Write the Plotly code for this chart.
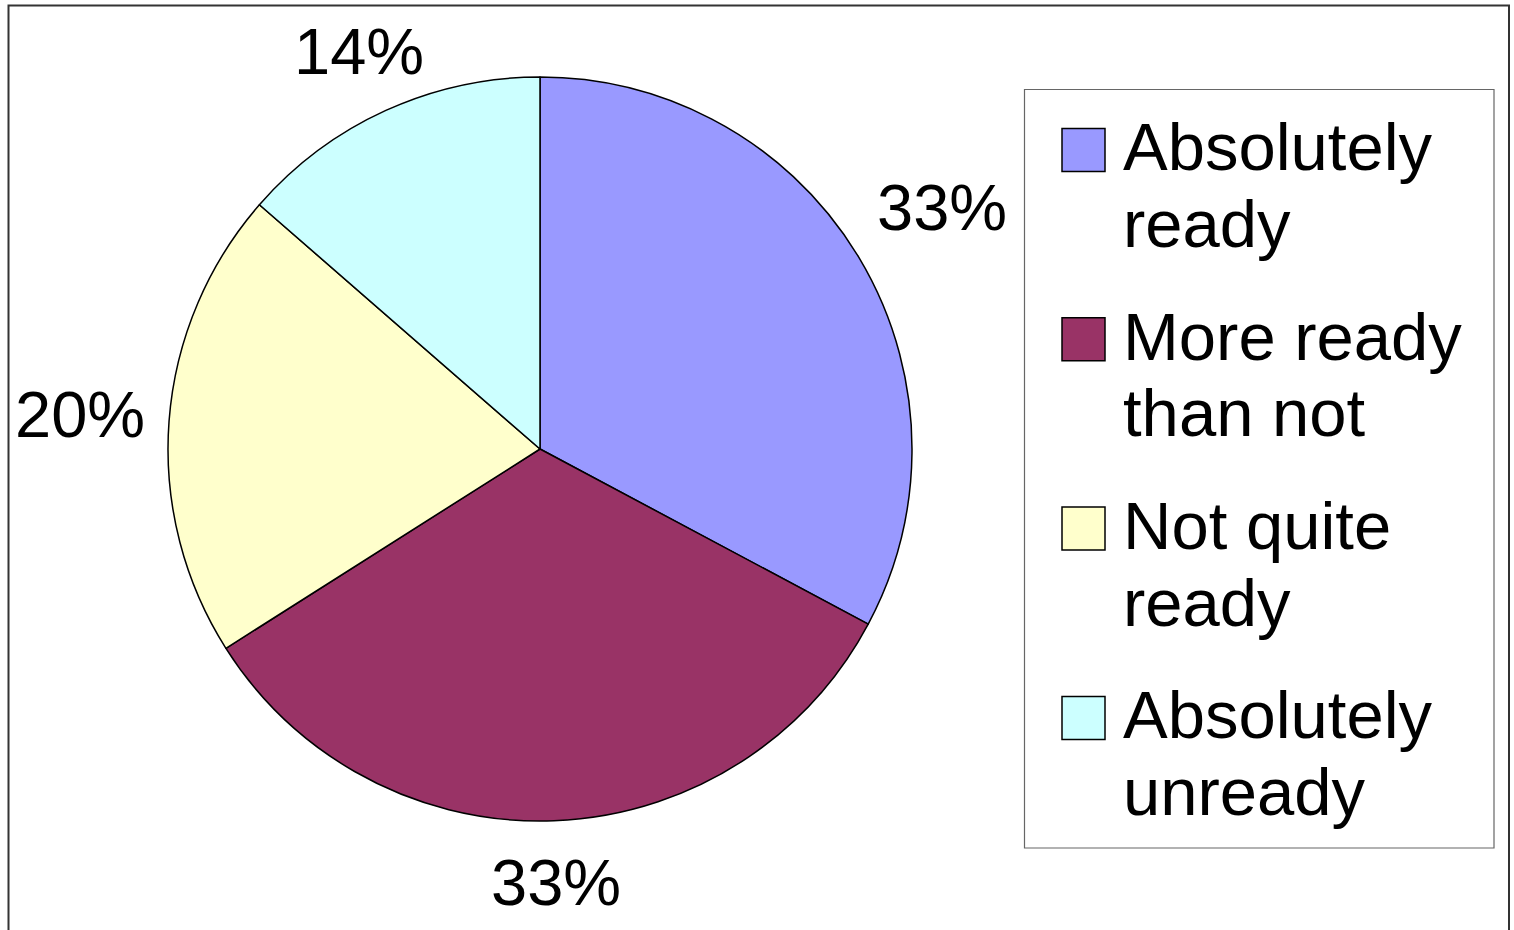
import math
import plotly.graph_objects as go

# ---- data ----
categories = ["Absolutely ready", "More ready than not", "Not quite ready", "Absolutely unready"]
legend_lines = [["Absolutely", "ready"], ["More ready", "than not"], ["Not quite", "ready"], ["Absolutely", "unready"]]
values = [32.8, 33.2, 20.4, 13.6]
colors = ["#9999FF", "#993366", "#FFFFCC", "#CCFFFF"]

W, H = 1514, 930
FONT = "Liberation Sans, Arial, sans-serif"
LABEL_SIZE = 65
LEGEND_SIZE = 67

# pie domain (paper fractions)
dom_x = [168 / W, 912 / W]
dom_y = [1 - 821 / H, 1 - 77 / H]

fig = go.Figure()
fig.add_trace(go.Pie(
    labels=categories,
    values=values,
    sort=False,
    direction="clockwise",
    rotation=0,
    marker=dict(colors=colors, line=dict(color="black", width=1.5)),
    textinfo="none",
    domain=dict(x=dom_x, y=dom_y),
    showlegend=False,
    hoverinfo="label+percent",
))

def px(x):
    return x / W

def py(y):
    return 1 - y / H

annotations = []

# percentage labels placed just outside the slices, along each slice's mid angle
total = sum(values)
cx = (dom_x[0] + dom_x[1]) / 2 * W
cy = (1 - (dom_y[0] + dom_y[1]) / 2) * H
r = min((dom_x[1] - dom_x[0]) * W, (dom_y[1] - dom_y[0]) * H) / 2
gap = 24
half_w = 1.0 * LABEL_SIZE      # "33%" is about 2 em wide
half_h = 0.575 * LABEL_SIZE    # one text line is about 1.15 em tall
cum = 0.0
for v in values:
    mid = math.radians((cum + v / 2) / total * 360)
    cum += v
    s, c = abs(math.sin(mid)), abs(math.cos(mid))
    extent = min(half_w / s if s > 1e-9 else 1e9, half_h / c if c > 1e-9 else 1e9)
    dist = r + gap + extent
    lx = cx + dist * math.sin(mid)
    ly = cy - dist * math.cos(mid)
    annotations.append(dict(xref="paper", yref="paper", x=px(lx), y=py(ly),
                            xanchor="center", yanchor="middle", showarrow=False,
                            text=f"{round(v / total * 100)}%",
                            font=dict(family=FONT, size=LABEL_SIZE, color="black")))

shapes = [
    # outer chart frame
    dict(type="rect", xref="paper", yref="paper",
         x0=px(8.5), x1=px(1509), y0=py(935), y1=py(5.5),
         line=dict(color="#333333", width=2), fillcolor="rgba(0,0,0,0)"),
    # legend box
    dict(type="rect", xref="paper", yref="paper",
         x0=px(1024.5), x1=px(1494), y0=py(848), y1=py(89.5),
         line=dict(color="#666666", width=1.2), fillcolor="white"),
]

sq_left, sq_size, sq_top0, step = 1062, 43, 128.5, 189.3
text_left = 1121
base_off, line_gap = 41.5, 76.7
for i, (lines, col) in enumerate(zip(legend_lines, colors)):
    top = sq_top0 + i * step
    shapes.append(dict(type="rect", xref="paper", yref="paper",
                       x0=px(sq_left), x1=px(sq_left + sq_size),
                       y0=py(top + sq_size), y1=py(top),
                       line=dict(color="black", width=1.5), fillcolor=col))
    for j, line in enumerate(lines):
        baseline = top + base_off + j * line_gap
        annotations.append(dict(xref="paper", yref="paper",
                                x=px(text_left), y=py(baseline - 0.3465 * LEGEND_SIZE),
                                xanchor="left", yanchor="middle", align="left",
                                text=line, showarrow=False,
                                font=dict(family=FONT, size=LEGEND_SIZE, color="black")))

fig.update_layout(
    width=W, height=H,
    margin=dict(l=0, r=0, t=0, b=0),
    paper_bgcolor="white",
    plot_bgcolor="white",
    shapes=shapes,
    annotations=annotations,
    showlegend=False,
)

fig.write_html("out.html")
